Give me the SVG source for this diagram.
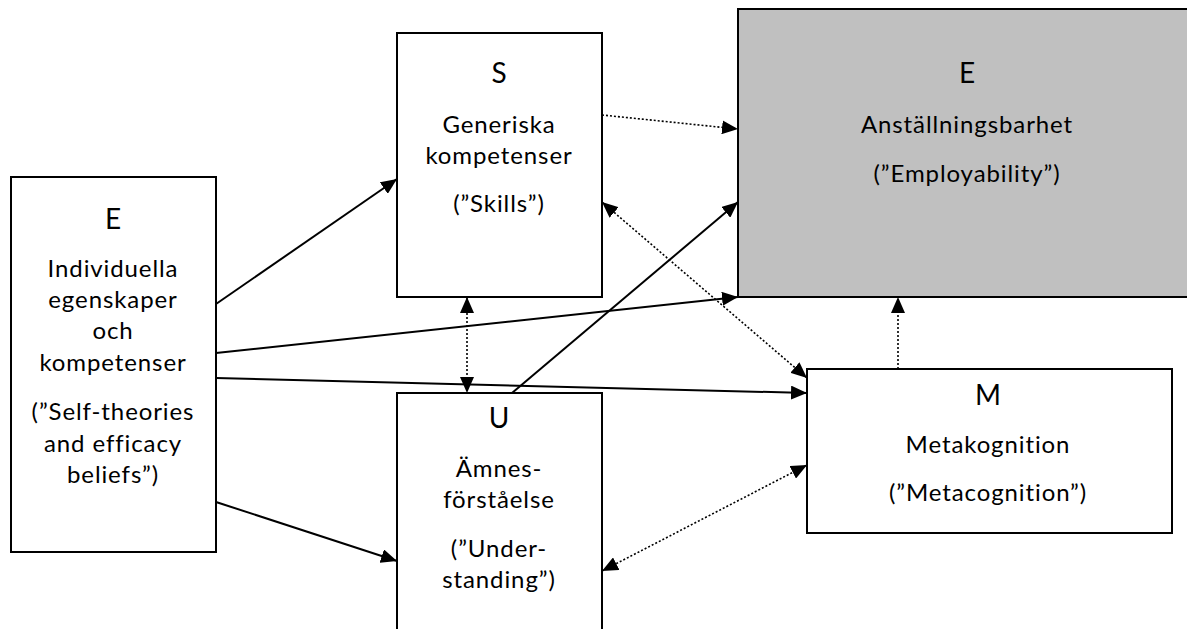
<svg xmlns="http://www.w3.org/2000/svg" width="1187" height="629" viewBox="0 0 1187 629">
<defs>
<marker id="ah" markerUnits="userSpaceOnUse" markerWidth="16" markerHeight="14" viewBox="0 0 16 14" refX="16" refY="7" orient="auto-start-reverse">
<path d="M0,0 L16,7 L0,14 Z" fill="#000"/>
</marker>
</defs>
<style>
.box{stroke:#000;stroke-width:2;fill:#fff}
.gray{fill:#c0c0c0}
text{font-family:Lato,"Liberation Sans",sans-serif;font-size:24px;letter-spacing:0.9px;fill:#000;text-anchor:middle}
.big{font-size:28px;letter-spacing:0}
.solid{stroke:#000;stroke-width:2;fill:none;marker-end:url(#ah)}
.dot{stroke:#000;stroke-width:1.6;stroke-dasharray:2 2;fill:none;marker-end:url(#ah)}
.both{marker-start:url(#ah)}
</style>
<rect width="1187" height="629" fill="#fff"/>
<g id="node-employability">
<rect class="box gray" x="738" y="9" width="460" height="288"/>
<text class="big" x="967" y="83">E</text>
<text x="967" y="133">Anställningsbarhet</text>
<text x="967" y="182">(”Employability”)</text>
</g>
<g id="node-skills">
<rect class="box" x="397" y="33" width="205" height="264"/>
<text class="big" x="499" y="83">S</text>
<text x="499" y="133">Generiska</text>
<text x="499" y="164">kompetenser</text>
<text x="499" y="212">(”Skills”)</text>
</g>
<g id="node-efficacy">
<rect class="box" x="11" y="177" width="205" height="375"/>
<text class="big" x="113" y="229">E</text>
<text x="113" y="277">Individuella</text>
<text x="113" y="308">egenskaper</text>
<text x="113" y="339">och</text>
<text x="113" y="371">kompetenser</text>
<text x="113" y="420">(”Self-theories</text>
<text x="113" y="452">and efficacy</text>
<text x="113" y="483">beliefs”)</text>
</g>
<g id="node-understanding">
<rect class="box" x="397" y="393" width="205" height="250"/>
<text class="big" x="499" y="428">U</text>
<text x="499" y="477">Ämnes-</text>
<text x="499" y="508">förståelse</text>
<text x="499" y="557">(”Under-</text>
<text x="499" y="588">standing”)</text>
</g>
<g id="node-metacognition">
<rect class="box" x="807" y="369" width="365" height="164"/>
<text class="big" x="988" y="405">M</text>
<text x="988" y="453">Metakognition</text>
<text x="988" y="501">(”Metacognition”)</text>
</g>
<g id="connectors">
<line class="solid" x1="216" y1="304" x2="397" y2="179"/>
<line class="solid" x1="216" y1="353" x2="738" y2="297"/>
<line class="solid" x1="216" y1="378" x2="807" y2="393"/>
<line class="solid" x1="216" y1="502" x2="397" y2="561"/>
<line class="solid" x1="512" y1="393" x2="738" y2="202"/>
<line class="dot both" x1="467" y1="297" x2="467" y2="393"/>
<line class="dot" x1="602" y1="115" x2="738" y2="129"/>
<line class="dot both" x1="602" y1="202" x2="807" y2="378"/>
<line class="dot" x1="898" y1="369" x2="898" y2="297"/>
<line class="dot both" x1="602" y1="571" x2="807" y2="465"/>
</g>
</svg>
